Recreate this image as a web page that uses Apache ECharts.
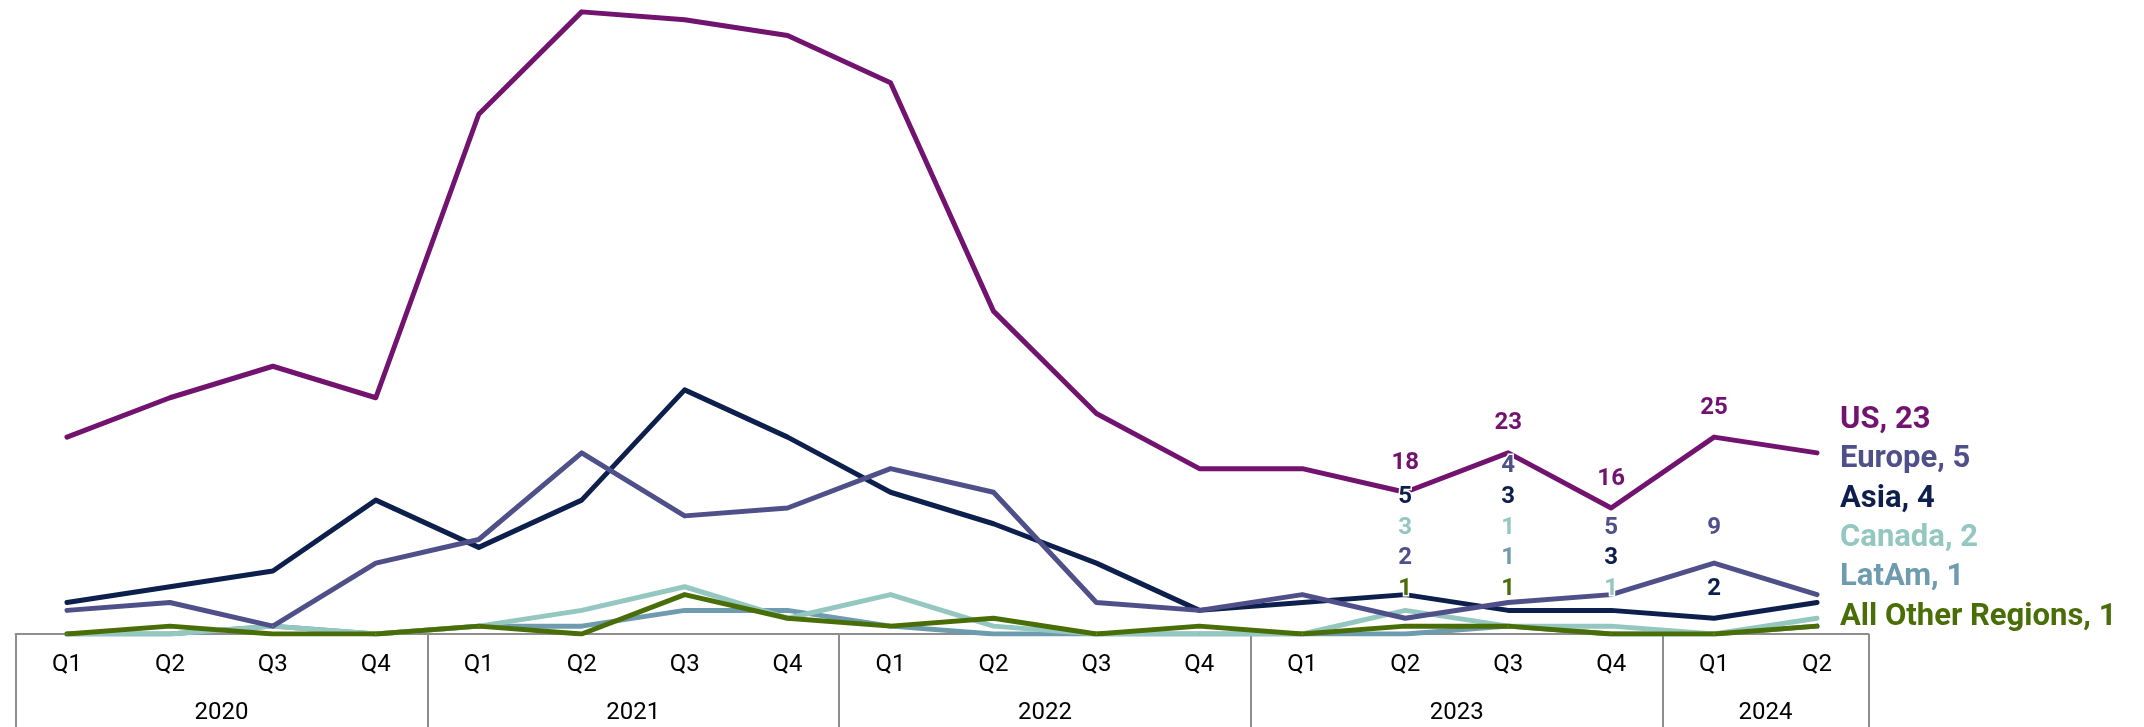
<!DOCTYPE html>
<html>
<head>
<meta charset="utf-8">
<script src="https://cdn.jsdelivr.net/npm/echarts@6/dist/echarts.min.js"></script>
<style>
  html, body { margin: 0; padding: 0; background: #ffffff; }
  #chart { width: 2144px; height: 727px; }
</style>
</head>
<body>
<div id="chart"></div>
<script>
// Quarterly counts by region, 2020 Q1 – 2024 Q2
const quarters = ['Q1','Q2','Q3','Q4','Q1','Q2','Q3','Q4','Q1','Q2','Q3','Q4','Q1','Q2','Q3','Q4','Q1','Q2'];
const years = ['2020','2021','2022','2023','2024'];
const quartersPerYear = [4, 4, 4, 4, 2];

const us      = [25, 30, 34, 30, 66, 79, 78, 76, 70, 41, 28, 21, 21, 18, 23, 16, 25, 23];
const europe  = [ 3,  4,  1,  9, 12, 23, 15, 16, 21, 18,  4,  3,  5,  2,  4,  5,  9,  5];
const asia    = [ 4,  6,  8, 17, 11, 17, 31, 25, 18, 14,  9,  3,  4,  5,  3,  3,  2,  4];
const canada  = [ 0,  0,  1,  0,  1,  3,  6,  2,  5,  1,  0,  0,  0,  3,  1,  1,  0,  2];
const latam   = [ 0,  0,  1,  0,  1,  1,  3,  3,  1,  0,  0,  0,  0,  0,  1,  0,  0,  1];
const other   = [ 0,  1,  0,  0,  1,  0,  5,  2,  1,  2,  0,  1,  0,  1,  1,  0,  0,  1];

// Series styling; drawing order puts US underneath the rest
const regions = [
  { name: 'US',                values: us,     color: '#72136F' },
  { name: 'LatAm',             values: latam,  color: '#6F9BAE' },
  { name: 'Canada',            values: canada, color: '#95C7C1' },
  { name: 'Asia',              values: asia,   color: '#0D1F4C' },
  { name: 'Europe',            values: europe, color: '#4F5089' },
  { name: 'All Other Regions', values: other,  color: '#4A6E07' }
];

// Order of the right-hand labels, bottom to top
const endLabelOrder = ['All Other Regions', 'LatAm', 'Canada', 'Asia', 'Europe', 'US'];

// Value labels stacked under the US value for recent quarters (bottom row first)
const labelRows = {
  13: ['All Other Regions', 'Europe', 'Canada', 'Asia'],
  14: ['All Other Regions', 'LatAm', 'Canada', 'Asia', 'Europe'],
  15: ['Canada', 'Asia', 'Europe'],
  16: ['Asia', null, 'Europe']
};

const FONT = 'Roboto, "Noto Sans", sans-serif';
const AXIS_GRAY = '#8E8E8E';

// Year row: half-quarter slots so each year label sits centred over its quarters
const yearAxisData = new Array(quarters.length * 2 + 1).fill('');
const yearBounds = new Set([0]);
let startQ = 0;
years.forEach((y, k) => {
  const n = quartersPerYear[k];
  yearAxisData[2 * startQ + n] = y;
  startQ += n;
  yearBounds.add(2 * startQ);
});

const chart = echarts.init(document.getElementById('chart'), null, { renderer: 'canvas' });

function baseSeries(r, data, endLabel) {
  return {
    name: r.name,
    type: 'line',
    data: data,
    xAxisIndex: 0,
    yAxisIndex: 0,
    smooth: false,
    symbol: 'circle',
    symbolSize: 1,
    showSymbol: true,
    itemStyle: { color: r.color },
    lineStyle: { color: r.color, width: 5, cap: 'round', join: 'round' },
    emphasis: { disabled: true },
    label: { show: false },
    endLabel: endLabel,
    animation: false
  };
}

const option = {
  animation: false,
  backgroundColor: '#ffffff',
  grid: { left: 15.5, right: 275.5, top: 4, bottom: 93, containLabel: false },
  xAxis: [
    {
      type: 'category',
      data: quarters,
      boundaryGap: true,
      position: 'bottom',
      axisLine: { show: true, lineStyle: { color: AXIS_GRAY, width: 2 } },
      axisTick: { show: false },
      axisLabel: { interval: 0, margin: 19, color: '#000000', fontFamily: FONT, fontSize: 24 },
      splitLine: { show: false }
    },
    {
      type: 'category',
      data: yearAxisData,
      boundaryGap: false,
      position: 'bottom',
      axisLine: { show: false },
      axisTick: {
        show: true,
        length: 95,
        interval: (idx) => yearBounds.has(idx),
        lineStyle: { color: AXIS_GRAY, width: 2 }
      },
      axisLabel: { interval: 0, margin: 67, color: '#000000', fontFamily: FONT, fontSize: 24 },
      splitLine: { show: false }
    }
  ],
  yAxis: {
    type: 'value',
    min: 0,
    max: 80,
    show: false,
    splitLine: { show: false }
  },
  series: regions.map(r => baseSeries(r, r.values, { show: false }))
};

chart.setOption(option);

// Second pass: place value labels and end labels using the chart's own scales
const toPx = (i, v) => chart.convertToPixel({ xAxisIndex: 0, yAxisIndex: 0 }, [i, v]);
const zeroY = toPx(0, 0)[1];
const ROW0 = 45, ROW_STEP = 30.75;
const END0 = 17, END_STEP = 39.4;
const last = quarters.length - 1;

const series = regions.map(r => {
  const data = r.values.map((v, i) => {
    const rows = labelRows[i];
    if (!rows) return v;
    const common = {
      show: true,
      formatter: String(v),
      color: r.color,
      fontFamily: FONT,
      fontSize: 24,
      fontWeight: 'bold',
      textBorderColor: '#ffffff',
      textBorderWidth: 3
    };
    if (r.name === 'US') {
      return { value: v, label: Object.assign(common, { position: 'top', distance: 17 }) };
    }
    const row = rows.indexOf(r.name);
    if (row < 0) return v;
    const pointY = toPx(i, v)[1];
    const targetY = zeroY - ROW0 - ROW_STEP * row;
    return { value: v, label: Object.assign(common, { position: 'inside', offset: [0, targetY - pointY] }) };
  });
  const endY = toPx(last, r.values[last])[1];
  const k = endLabelOrder.indexOf(r.name);
  const targetEnd = zeroY - END0 - END_STEP * k;
  return baseSeries(r, data, {
    show: true,
    formatter: p => p.seriesName + ', ' + p.value,
    distance: 23,
    offset: [0, targetEnd - endY],
    color: r.color,
    fontFamily: FONT,
    fontSize: 31,
    fontWeight: 'bold',
    align: 'left',
    verticalAlign: 'middle'
  });
});

chart.setOption({ series: series });
</script>
</body>
</html>
